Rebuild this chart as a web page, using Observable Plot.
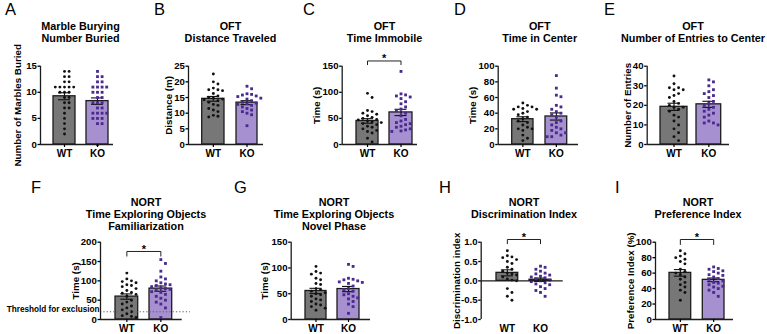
<!DOCTYPE html>
<html>
<head>
<meta charset="utf-8">
<script src="https://cdn.jsdelivr.net/npm/d3@7"></script>
<script src="https://cdn.jsdelivr.net/npm/@observablehq/plot@0.6"></script>
<style>
  body { margin: 0; background: #fff; }
  #fig { position: relative; width: 767px; height: 334px; overflow: hidden;
         font-family: 'Liberation Sans', Arial, sans-serif; color: #000; background: #fff; }
  .letter { position: absolute; font-size: 16.5px; line-height: 16px; }
  .title { position: absolute; transform: translateX(-50%); text-align: center; white-space: nowrap;
           font-weight: bold; font-size: 10.8px; line-height: 12.4px; }
  .panel { position: absolute; }
</style>
</head>
<body>
<div id="fig"></div>
<script>
const groups = ["WT", "KO"];

// Marble burying: number of marbles buried
const marblesWT = [14, 14, 13, 13, 12, 12, 11, 11, 11, 11, 11, 10, 10, 10, 9, 9, 8, 8, 7, 7, 6, 5, 4, 3, 2];
const marblesKO = [14, 13, 13, 12, 12, 11, 11, 11, 11, 10, 10, 10, 9, 9, 8, 8, 8, 7, 7, 6, 6, 6, 6, 5, 5, 5, 4, 4, 0];

// Open field: distance traveled (m)
const distanceWT = [22.5, 20, 19.3, 18, 17.5, 17.5, 17.2, 16.3, 15.5, 15, 14.8, 14.5, 14.3, 14, 13.5, 12.8, 12.5, 11.5, 11, 10.5, 9.3, 9, 8.8];
const distanceKO = [18.6, 17.8, 16.2, 16, 15.8, 15.5, 15.3, 14.8, 14.5, 14, 13.5, 13.2, 13, 12.8, 12.5, 12, 11.5, 11, 10.5, 10, 9.5, 6];

// Open field: time immobile (s)
const immobileWT = [98, 90, 65, 63, 60, 58, 55, 52, 50, 48, 47, 45, 43, 42, 40, 38, 35, 33, 30, 27, 25, 22, 12, 5];
const immobileKO = [140, 97, 95, 93, 91, 88, 82, 78, 72, 68, 65, 60, 55, 48, 45, 42, 40, 38, 35, 33, 30, 28, 26, 25];

// Open field: time in center (s)
const centerTimeWT = [53, 50, 48, 48, 46, 45, 45, 42, 40, 38, 35, 33, 30, 28, 25, 22, 20, 20, 18, 12, 8, 5];
const centerTimeKO = [88, 72, 63, 61, 50, 48, 45, 42, 40, 38, 35, 30, 28, 25, 22, 20, 18, 15, 15, 12, 10, 10];

// Open field: number of entries to center
const entriesWT = [35, 31, 29, 29, 28, 28, 26, 25, 24, 22, 21, 20, 19, 19, 18, 17, 15, 14, 12, 10, 8, 6, 4, 2];
const entriesKO = [33, 32, 30, 28, 27, 26, 25, 24, 22, 21, 20, 19, 18, 17, 16, 15, 14, 12, 11, 11, 10];

// NORT: time exploring objects, familiarization (s)
const familiarWT = [120, 105, 100, 98, 95, 90, 88, 85, 80, 75, 70, 68, 65, 60, 50, 45, 40, 35, 30, 25, 20, 15, 10, 8, 5];
const familiarKO = [155, 145, 125, 110, 105, 100, 95, 92, 90, 88, 85, 82, 80, 78, 75, 72, 70, 65, 60, 55, 50, 45, 40, 30, 5];
const exclusionThreshold = 20;

// NORT: time exploring objects, novel phase (s)
const novelWT = [103, 90, 93, 88, 80, 77, 70, 68, 60, 58, 55, 52, 50, 48, 45, 40, 38, 35, 30, 28, 25, 22, 18];
const novelKO = [107, 103, 80, 78, 77, 75, 73, 72, 70, 65, 60, 58, 55, 50, 48, 45, 42, 40, 35, 30, 25, 12];

// NORT: discrimination index
const discrimWT = [0.78, 0.65, 0.62, 0.6, 0.55, 0.5, 0.45, 0.35, 0.3, 0.25, 0.2, 0.18, 0.15, 0.1, 0.05, 0.02, 0, -0.2, -0.3, -0.4, -0.5];
const discrimKO = [0.38, 0.35, 0.3, 0.25, 0.2, 0.18, 0.15, 0.12, 0.1, 0.08, 0.05, 0.02, 0, -0.02, -0.05, -0.08, -0.1, -0.15, -0.2, -0.25, -0.3, -0.4];

// NORT: preference index (%)
const preferenceWT = [89, 85, 82, 80, 78, 75, 72, 65, 62, 60, 58, 55, 52, 48, 45, 42, 38, 35, 25];
const preferenceKO = [68, 66, 65, 63, 62, 60, 58, 57, 55, 53, 52, 50, 48, 47, 45, 43, 42, 40, 38, 35, 30];

// Panel layout (page pixels)
const row1 = {top: 40, height: 128, yTop: 65.7, yBottom: 144, titleTop: 19.5};
const row2 = {top: 228, height: 106, yTop: 241.7, yBottom: 319, titleTop: 195.5};

const panels = [
  {letter: "A", lx: 5, ly: 1.3, title: ["Marble Burying", "Number Buried"], tx: 80.5,
   ylabel: "Number of Marbles Buried", wt: marblesWT, ko: marblesKO, y: [0, 15], ticks: [0, 5, 10, 15],
   box: {...row1, left: 0, width: 150, axisX: 40, xEnd: 113, bw: [53, 75], bk: [86, 108], ylabelX: 17.7}},
  {letter: "B", lx: 154, ly: 1.3, title: ["OFT", "Distance Traveled"], tx: 230.5,
   ylabel: "Distance (m)", wt: distanceWT, ko: distanceKO, y: [0, 25], ticks: [0, 5, 10, 15, 20, 25],
   box: {...row1, left: 150, width: 150, axisX: 188, xEnd: 263, bw: [201.7, 224], bk: [236, 257], ylabelX: 168.5}},
  {letter: "C", lx: 303, ly: 1.3, title: ["OFT", "Time Immobile"], tx: 384.5,
   ylabel: "Time (s)", wt: immobileWT, ko: immobileKO, y: [0, 150], ticks: [0, 50, 100, 150],
   sig: {y: 160, tick: 153},
   box: {...row1, left: 300, width: 150, axisX: 341.7, xEnd: 417, bw: [356, 378], bk: [389, 412], ylabelX: 316.7}},
  {letter: "D", lx: 454, ly: 1.3, title: ["OFT", "Time in Center"], tx: 539.7,
   ylabel: "Time (s)", wt: centerTimeWT, ko: centerTimeKO, y: [0, 100], ticks: [0, 20, 40, 60, 80, 100],
   box: {...row1, left: 450, width: 150, axisX: 497.7, xEnd: 578, bw: [511.7, 533], bk: [545, 566.7], ylabelX: 472}},
  {letter: "E", lx: 604, ly: 1.3, title: ["OFT", "Number of Entries to Center"], tx: 693,
   ylabel: "Number of Entries", wt: entriesWT, ko: entriesKO, y: [0, 40], ticks: [0, 10, 20, 30, 40],
   box: {...row1, left: 600, width: 167, axisX: 646.7, xEnd: 729, bw: [660, 687], bk: [696, 720.7], ylabelX: 627.8}},
  {letter: "F", lx: 31, ly: 178.7, title: ["NORT", "Time Exploring Objects", "Familiarization"], tx: 146,
   ylabel: "Time (s)", wt: familiarWT, ko: familiarKO, y: [0, 200], ticks: [0, 50, 100, 150, 200],
   sig: {y: 176, tick: 164}, threshold: exclusionThreshold,
   box: {...row2, left: 0, width: 200, axisX: 100, xEnd: 181.7, bw: [115, 137.7], bk: [149, 171.7], ylabelX: 75.7}},
  {letter: "G", lx: 234, ly: 178.7, title: ["NORT", "Time Exploring Objects", "Novel Phase"], tx: 334,
   ylabel: "Time (s)", wt: novelWT, ko: novelKO, y: [0, 150], ticks: [0, 50, 100, 150],
   box: {...row2, left: 200, width: 190, axisX: 290.7, xEnd: 370, bw: [305, 326], bk: [337, 359], ylabelX: 264}},
  {letter: "H", lx: 439, ly: 178.7, title: ["NORT", "Discrimination Index"], tx: 524,
   ylabel: "Discrimination index", wt: discrimWT, ko: discrimKO, y: [-1, 1], ticks: [-1, -0.5, 0, 0.5, 1],
   fmt: d => d.toFixed(1), base: 0, sig: {y: 1.07, tick: 0.96},
   box: {...row2, left: 390, width: 180, axisX: 480.7, xEnd: 562.7, bw: [496, 517.7], bk: [529, 551], ylabelX: 456.2}},
  {letter: "I", lx: 615, ly: 178.7, title: ["NORT", "Preference Index"], tx: 698,
   ylabel: "Preference Index (%)", wt: preferenceWT, ko: preferenceKO, y: [0, 100], ticks: [0, 20, 40, 60, 80, 100],
   sig: {y: 103.5, tick: 97},
   box: {...row2, left: 570, width: 197, axisX: 655, xEnd: 733, bw: [669, 690.7], bk: [702.3, 724], ylabelX: 630.3}}
];

const ink = "#1c1c1c";
const barFill = ["#777777", "#a690cf"];
const dotFill = ["#111111", "#4a2a8e"];

// Simple beeswarm: horizontal pixel offsets so points in a column do not overlap
function swarm(values, pxPerUnit, d) {
  const order = values.map((_, i) => i).sort((a, b) => values[b] - values[a]);
  const placed = [];
  const off = new Array(values.length);
  for (const i of order) {
    const y = values[i] * pxPerUnit;
    for (let s = 0; ; s++) {
      const x = s === 0 ? 0 : (s % 2 ? 1 : -1) * Math.ceil(s / 2) * d;
      if (placed.every(p => (p.x - x) ** 2 + (p.y - y) ** 2 >= d * d * 0.95)) {
        off[i] = x; placed.push({x, y}); break;
      }
    }
  }
  return off;
}

function summary(vals) {
  return {mean: d3.mean(vals), sem: d3.deviation(vals) / Math.sqrt(vals.length)};
}

const fig = document.getElementById("fig");

function addDiv(cls, html, style) {
  const el = document.createElement("div");
  el.className = cls;
  el.innerHTML = html;
  Object.assign(el.style, style);
  fig.appendChild(el);
  return el;
}

for (const p of panels) {
  const L = p.box;
  const span = L.xEnd - L.axisX;
  const ux = px => (px - L.axisX) / span;
  const pxPerY = (L.yBottom - L.yTop) / (p.y[1] - p.y[0]);
  const base = p.base ?? p.y[0];
  const series = [p.wt, p.ko];

  const bars = [L.bw, L.bk].map((b, i) => ({
    group: groups[i], x: ux((b[0] + b[1]) / 2), x1: ux(b[0]), x2: ux(b[1]), ...summary(series[i])
  }));
  const points = series.map((vals, i) => {
    const off = swarm(vals, pxPerY, 4.6);
    return vals.map((v, j) => ({group: groups[i], value: v, x: bars[i].x + off[j] / span}));
  });
  const cap = 6 / span;
  const labelOf = new Map(bars.map(b => [b.x, b.group]));

  const marks = [];
  bars.forEach((b, i) => {
    marks.push(Plot.rectY([b], {x1: "x1", x2: "x2", y1: () => base, y2: "mean",
      fill: barFill[i], stroke: ink, strokeWidth: 1.3}));
  });
  marks.push(
    Plot.ruleX(bars, {x: "x", y1: d => d.mean - d.sem, y2: d => d.mean + d.sem, stroke: "#111", strokeWidth: 1.1}),
    Plot.ruleY(bars, {y: d => d.mean + d.sem, x1: d => d.x - cap, x2: d => d.x + cap, stroke: "#111", strokeWidth: 1.1}),
    Plot.ruleY(bars, {y: d => d.mean - d.sem, x1: d => d.x - cap, x2: d => d.x + cap, stroke: "#111", strokeWidth: 1.1}),
    Plot.dot(points[0], {x: "x", y: "value", r: 1.45, fill: dotFill[0], stroke: null}),
    Plot.dot(points[1], {x: "x", y: "value", r: 1.6, symbol: "square", fill: dotFill[1], stroke: null})
  );
  if (p.threshold != null) {
    marks.push(
      Plot.ruleY([p.threshold], {x1: 0, x2: ux(190), stroke: "#666", strokeWidth: 1, strokeDasharray: "1.3,2"}),
      Plot.text(["Threshold for exclusion"], {x: () => ux(99), y: () => p.threshold, dy: -2, textAnchor: "end", fontSize: 8.2})
    );
  }
  marks.push(
    Plot.ruleX([0], {y1: p.y[0], y2: p.y[1], stroke: ink, strokeWidth: 1.3}),
    Plot.ruleY([base], {x1: 0, x2: 1, stroke: ink, strokeWidth: 1.3}),
    Plot.axisY({ticks: p.ticks, tickSize: 2.5, tickPadding: 1.2, tickFormat: p.fmt, label: null, strokeWidth: 1.3, fontSize: 9.6}),
    Plot.axisX({ticks: bars.map(b => b.x), tickFormat: d => labelOf.get(d), tickSize: p.base != null ? 0 : 3,
      tickPadding: p.base != null ? 5 : 2, label: null, strokeWidth: 1.2, fontSize: 10}),
    Plot.text([p.ylabel], {frameAnchor: "left", textAnchor: "middle", rotate: -90, dx: L.ylabelX - L.axisX, fontSize: 9.8})
  );
  if (p.sig) {
    const s = p.sig, a = bars[0].x, b = bars[1].x;
    marks.push(
      Plot.line([[a, s.tick], [a, s.y], [b, s.y], [b, s.tick]], {stroke: "#222", strokeWidth: 1}),
      Plot.text(["*"], {x: () => (a + b) / 2, y: () => s.y, dy: -2.5, fontSize: 11})
    );
  }

  const chart = Plot.plot({
    width: L.width,
    height: L.height,
    marginLeft: L.axisX - L.left,
    marginRight: L.left + L.width - L.xEnd,
    marginTop: L.yTop - L.top,
    marginBottom: L.top + L.height - L.yBottom,
    x: {domain: [0, 1]},
    y: {domain: p.y},
    style: {fontFamily: "'Liberation Sans', Arial, sans-serif", fontWeight: "bold", fontSize: "10px",
            color: "#000", background: "transparent", overflow: "visible"},
    marks
  });
  const holder = document.createElement("div");
  holder.className = "panel";
  Object.assign(holder.style, {left: L.left + "px", top: L.top + "px", width: L.width + "px", height: L.height + "px"});
  holder.appendChild(chart);
  fig.appendChild(holder);

  addDiv("letter", p.letter, {left: p.lx + "px", top: p.ly + "px"});
  addDiv("title", p.title.join("<br>"), {left: p.tx + "px", top: L.titleTop + "px"});
}
</script>
</body>
</html>
